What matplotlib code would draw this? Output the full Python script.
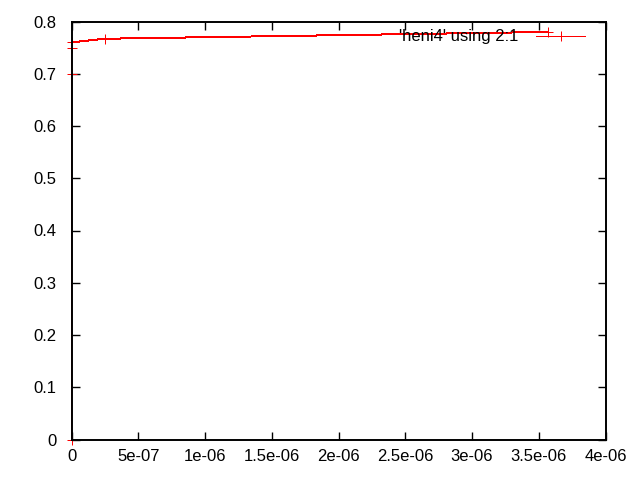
import matplotlib
matplotlib.use("Agg")
import matplotlib.pyplot as plt
from matplotlib.ticker import FuncFormatter, MultipleLocator

# data (column 2 on x, column 1 on y)
xs = [0, 0, 0, 0, 2.5e-7, 3.57e-6]
ys = [0, 0.70, 0.75, 0.76, 0.767, 0.780]
label = "'heni4' using 2:1"

plt.rcParams['font.family'] = ['Liberation Sans', 'DejaVu Sans']

fig = plt.figure(figsize=(6.4, 4.8), dpi=100)
fig.subplots_adjust(left=71.5/640, right=605.5/640, top=1-21.5/480,
                    bottom=1-439.5/480)
ax = fig.add_subplot(111)

ax.plot(xs, ys, color="red", lw=0.72, marker="+", ms=7, mew=0.72,
        clip_on=False, antialiased=False, label=label)

ax.set_xlim(0, 4e-6)
ax.set_ylim(0, 0.8)
ax.xaxis.set_major_locator(MultipleLocator(5e-7))
ax.yaxis.set_major_locator(MultipleLocator(0.1))


def fmt_x(v, pos):
    if abs(v) < 1e-12:
        return "0"
    m, e = ("%e" % v).split("e")
    m = ("%g" % float(m))
    return "%se%s%02d" % (m, e[0], abs(int(e)))


def fmt_y(v, pos):
    return "%g" % round(v, 3)


ax.xaxis.set_major_formatter(FuncFormatter(fmt_x))
ax.yaxis.set_major_formatter(FuncFormatter(fmt_y))
ax.tick_params(direction="in", length=6, width=1, top=True, right=True,
               labelsize=12)
ax.tick_params(axis="y", pad=11)
ax.tick_params(axis="x", pad=7)
for s in ax.spines.values():
    s.set_linewidth(1.4)
    s.set_zorder(5)

leg = ax.legend(loc="upper right", bbox_to_anchor=(0.98, 1.005), frameon=False,
                markerfirst=False, handlelength=2.9, fontsize=12,
                borderaxespad=0.2, handletextpad=1.1)

fig.savefig("out.png", dpi=100)
